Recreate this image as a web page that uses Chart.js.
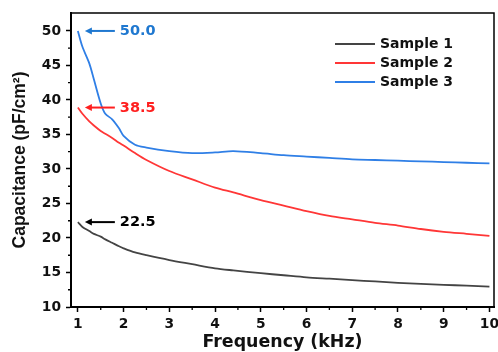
<!DOCTYPE html>
<html>
<head>
<meta charset="utf-8">
<script src="https://cdn.jsdelivr.net/npm/chart.js@4.4.1/dist/chart.umd.min.js"></script>
<style>
    html, body { margin: 0; padding: 0; background: #fff; }
    #wrap { width: 498px; height: 352px; }
</style>
</head>
<body>
<div id="wrap"><canvas id="capChart" width="498" height="352"></canvas></div>
<script>
// Frequency (kHz) shared by all three series
const frequency = [1, 1.1, 1.25, 1.35, 1.5, 1.6, 1.75, 1.9, 2, 2.25, 2.5, 3, 3.5, 4, 4.4, 5, 5.5, 6, 6.5, 7, 7.5, 8, 8.5, 9, 9.5, 10];

// Capacitance (pF/cm2)
const sample1 = [22.3, 21.6, 21.0, 20.6, 20.2, 19.8, 19.3, 18.8, 18.5, 17.9, 17.5, 16.8, 16.2, 15.6, 15.3, 14.9, 14.6, 14.3, 14.1, 13.9, 13.7, 13.5, 13.35, 13.2, 13.1, 12.95];
const sample2 = [38.9, 38.0, 36.9, 36.3, 35.5, 35.1, 34.5, 33.8, 33.4, 32.3, 31.3, 29.7, 28.5, 27.3, 26.6, 25.5, 24.7, 23.9, 23.2, 22.7, 22.2, 21.8, 21.3, 20.9, 20.6, 20.3];
const sample3 = [50.0, 47.7, 45.3, 43.0, 39.5, 38.0, 37.2, 35.9, 34.8, 33.5, 33.1, 32.6, 32.3, 32.4, 32.6, 32.3, 32.0, 31.8, 31.6, 31.4, 31.3, 31.2, 31.1, 31.0, 30.9, 30.8];

const seriesNames = ['Sample 1', 'Sample 2', 'Sample 3'];
const seriesColors = ['#444444', '#ff3636', '#2f7fe6'];
const calloutLabels = ['22.5', '38.5', '50.0'];
const calloutColors = ['#000000', '#ff1f1f', '#1f78d0'];

const xTicks = [1, 2, 3, 4, 5, 6, 7, 8, 9, 10];
const xMinorTicks = [1.5, 2.5, 3.5, 4.5, 5.5, 6.5, 7.5, 8.5, 9.5];
const yTicks = [10, 15, 20, 25, 30, 35, 40, 45, 50];
const yMinorTicks = [12.5, 17.5, 22.5, 27.5, 32.5, 37.5, 42.5, 47.5];

const WIDE = '"DejaVu Sans", sans-serif';

// frame, minor ticks, arrows with values and the legend
const decorations = {
    id: 'decorations',
    afterDraw(chart) {
        const { ctx, chartArea: a, scales: { x, y } } = chart;
        ctx.save();

        ctx.strokeStyle = '#000';
        ctx.lineWidth = 1.5;
        ctx.beginPath();
        ctx.moveTo(a.left, a.top);
        ctx.lineTo(a.right, a.top);
        ctx.lineTo(a.right, a.bottom);
        ctx.stroke();

        ctx.lineWidth = 1.3;
        ctx.beginPath();
        xMinorTicks.forEach(v => {
            const px = x.getPixelForValue(v);
            ctx.moveTo(px, a.bottom);
            ctx.lineTo(px, a.bottom + 3);
        });
        yMinorTicks.forEach(v => {
            const py = y.getPixelForValue(v);
            ctx.moveTo(a.left, py);
            ctx.lineTo(a.left - 3, py);
        });
        ctx.stroke();

        // arrows pointing at the first point of each curve
        ctx.font = `bold 14.5px ${WIDE}`;
        ctx.textBaseline = 'middle';
        ctx.textAlign = 'left';
        chart.data.datasets.forEach((ds, i) => {
            const px = x.getPixelForValue(ds.data[0].x);
            const py = y.getPixelForValue(ds.data[0].y);
            const tip = px + 7, tail = px + 37;
            ctx.strokeStyle = calloutColors[i];
            ctx.fillStyle = calloutColors[i];
            ctx.lineWidth = 2;
            ctx.beginPath();
            ctx.moveTo(tail, py);
            ctx.lineTo(tip + 5, py);
            ctx.stroke();
            ctx.beginPath();
            ctx.moveTo(tip, py);
            ctx.lineTo(tip + 7, py - 3.5);
            ctx.lineTo(tip + 7, py + 3.5);
            ctx.closePath();
            ctx.fill();
            ctx.fillText(calloutLabels[i], px + 42, py + 0.5);
        });

        // legend, top right inside the plot
        ctx.font = `bold 14px ${WIDE}`;
        chart.data.datasets.forEach((ds, i) => {
            const ly = a.top + 31 + i * 19;
            ctx.strokeStyle = ds.borderColor;
            ctx.lineWidth = 1.8;
            ctx.beginPath();
            ctx.moveTo(a.right - 159, ly);
            ctx.lineTo(a.right - 119, ly);
            ctx.stroke();
            ctx.fillStyle = '#111';
            ctx.fillText(ds.label, a.right - 114, ly + 0.5);
        });

        ctx.restore();
    }
};

const toPoints = vals => vals.map((v, i) => ({ x: frequency[i], y: v }));

new Chart(document.getElementById('capChart').getContext('2d'), {
    type: 'line',
    data: {
        datasets: [sample1, sample2, sample3].map((vals, i) => ({
            label: seriesNames[i],
            data: toPoints(vals),
            borderColor: seriesColors[i],
            borderWidth: 1.8,
            pointRadius: 0,
            tension: 0.3,
            fill: false
        }))
    },
    options: {
        responsive: false,
        animation: false,
        layout: { padding: { top: 13, right: 4, left: 0, bottom: 0 } },
        plugins: { legend: { display: false }, tooltip: { enabled: false } },
        scales: {
            x: {
                type: 'linear',
                min: 0.85,
                max: 10.1,
                afterBuildTicks: s => { s.ticks = xTicks.map(v => ({ value: v })); },
                afterFit: s => { s.height = 45; s.paddingLeft = 0; s.paddingRight = 0; },
                grid: { drawOnChartArea: false, drawTicks: true, tickLength: 5, tickWidth: 1.5, tickColor: '#000' },
                border: { display: true, width: 2, color: '#000' },
                ticks: { color: '#111', padding: 4, font: { family: WIDE, size: 13.8, weight: 'bold' } },
                title: {
                    display: true,
                    text: 'Frequency (kHz)',
                    color: '#111',
                    padding: { top: 0, bottom: -1 },
                    font: { family: WIDE, size: 17.4, weight: 'bold' }
                }
            },
            y: {
                min: 10,
                max: 52.6,
                afterBuildTicks: s => { s.ticks = yTicks.map(v => ({ value: v })); },
                afterFit: s => { s.width = 71; s.paddingTop = 0; s.paddingBottom = 0; },
                grid: { drawOnChartArea: false, drawTicks: true, tickLength: 5, tickWidth: 1.5, tickColor: '#000' },
                border: { display: true, width: 2, color: '#000' },
                ticks: { color: '#111', padding: 5, font: { family: WIDE, size: 13.8, weight: 'bold' } },
                title: {
                    display: true,
                    text: 'Capacitance (pF/cm²)',
                    color: '#111',
                    padding: { top: 10, bottom: 0 },
                    font: { family: '"Liberation Sans", Arial, sans-serif', size: 17.5, weight: 'bold' }
                }
            }
        }
    },
    plugins: [decorations]
});
</script>
</body>
</html>
